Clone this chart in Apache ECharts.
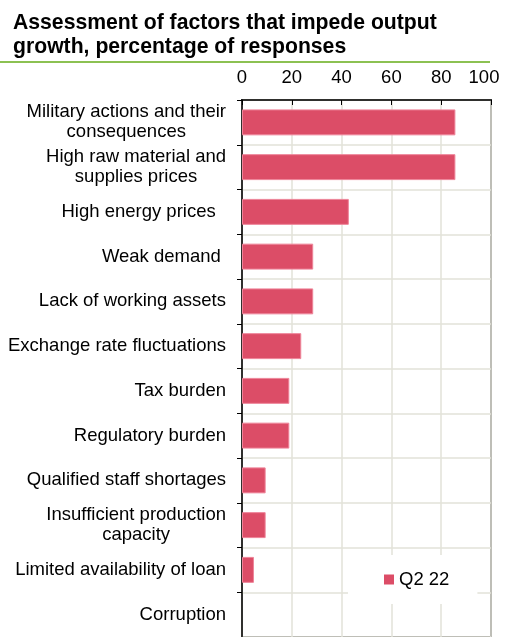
<!DOCTYPE html>
<html>
<head>
<meta charset="utf-8">
<script src="https://cdn.jsdelivr.net/npm/echarts@6/dist/echarts.min.js"></script>
<style>
  html, body { margin: 0; padding: 0; background: #fff; }
  #chart { width: 508px; height: 637px; }
</style>
</head>
<body>
<div id="chart"></div>
<script>
// Factors impeding output growth (share of responses, %)
const categories = [
  'Military actions and their\nconsequences',
  'High raw material and\nsupplies prices',
  'High energy prices  ',
  'Weak demand ',
  'Lack of working assets',
  'Exchange rate fluctuations',
  'Tax burden',
  'Regulatory burden',
  'Qualified staff shortages',
  'Insufficient production\ncapacity',
  'Limited availability of loan',
  'Corruption'
];
const q2_22 = [85.7, 85.7, 42.9, 28.6, 28.6, 23.8, 19.0, 19.0, 9.5, 9.5, 4.8, 0];
const xTicks = { min: 0, max: 100, step: 20 };

const FONT = 'Arial, "Liberation Sans", sans-serif';
const LABEL_SIZE = 18.5;
const GRID_COLOR = '#E2E2D9';
const BAR_STYLE = { color: '#DC4D67', borderColor: '#EE8499', borderWidth: 1 };

// zero-length bars get no outline so nothing is drawn for them
const barData = q2_22.map(function (v) {
  return v === 0 ? { value: v, itemStyle: { borderWidth: 0 } } : v;
});

const chart = echarts.init(document.getElementById('chart'), null, { renderer: 'canvas' });

chart.setOption({
  animation: false,
  backgroundColor: '#fff',
  title: {
    text: 'Assessment of factors that impede output\ngrowth, percentage of responses',
    left: 8,
    top: 6,
    textStyle: { fontFamily: FONT, fontSize: 21.2, fontWeight: 'bold', color: '#000', lineHeight: 24 }
  },
  graphic: [{
    type: 'line',
    shape: { x1: 0, y1: 62, x2: 490, y2: 62 },
    style: { stroke: '#8CC152', lineWidth: 2 },
    silent: true
  }],
  legend: {
    data: ['Q2 22'],
    left: 348,
    top: 555,
    backgroundColor: '#fff',
    padding: [15, 28, 15, 36],
    icon: 'rect',
    itemWidth: 10,
    itemHeight: 10,
    itemStyle: { borderWidth: 0 },
    textStyle: { fontFamily: FONT, fontSize: LABEL_SIZE, color: '#000' }
  },
  grid: {
    left: 242, top: 100, width: 249, height: 544,
    show: true, borderColor: '#555', borderWidth: 2, backgroundColor: 'transparent',
    containLabel: false
  },
  xAxis: {
    type: 'value',
    position: 'top',
    min: xTicks.min, max: xTicks.max, interval: xTicks.step,
    axisLine: { show: true, lineStyle: { color: '#000', width: 1.5 } },
    axisTick: { show: true, inside: true, length: 5, lineStyle: { color: '#000' } },
    axisLabel: {
      fontFamily: FONT, fontSize: LABEL_SIZE, color: '#000', margin: 13,
      formatter: function (v) { return v === xTicks.max ? '{r|' + v + '}' : String(v); },
      rich: { r: { fontFamily: FONT, fontSize: LABEL_SIZE, color: '#000', padding: [0, 14, 0, 0] } }
    },
    splitLine: { show: true, lineStyle: { color: GRID_COLOR, width: 1.5 } }
  },
  yAxis: {
    type: 'category',
    inverse: true,
    data: categories,
    axisLine: { show: true, lineStyle: { color: '#000', width: 1.5 } },
    axisTick: { show: true, length: 5, lineStyle: { color: '#000' } },
    splitLine: { show: true, lineStyle: { color: GRID_COLOR, width: 1.5 } },
    axisLabel: {
      fontFamily: FONT, fontSize: LABEL_SIZE, color: '#000', margin: 16, lineHeight: 20,
      formatter: function (v) {
        if (v.indexOf('\n') < 0) return v;
        return v.split('\n').map(function (s) { return '{c|' + s + '}'; }).join('\n');
      },
      rich: { c: { fontFamily: FONT, fontSize: LABEL_SIZE, color: '#000', align: 'center', lineHeight: 20 } }
    }
  },
  series: [{
    name: 'Q2 22',
    type: 'bar',
    data: barData,
    barCategoryGap: '42%',
    itemStyle: BAR_STYLE
  }]
});
</script>
</body>
</html>
